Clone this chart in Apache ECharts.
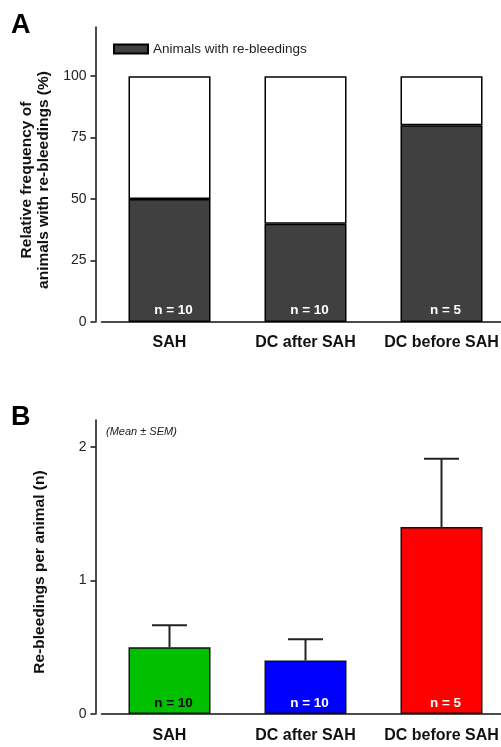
<!DOCTYPE html>
<html>
<head>
<meta charset="utf-8">
<script src="https://cdn.jsdelivr.net/npm/echarts@6/dist/echarts.min.js"></script>
<style>
html,body{margin:0;padding:0;background:#fff;}
#c{width:501px;height:747px;}
</style>
</head>
<body>
<div id="c"></div>
<script>
// ---- Data ----
const categories = ['SAH', 'DC after SAH', 'DC before SAH'];
const groupN = [10, 10, 5];
// Panel A: relative frequency (%)
const withRebleed = [50, 40, 80];
const withoutRebleed = [50, 60, 20];
const yTicksA = [0, 25, 50, 75, 100];
// Panel B: re-bleedings per animal (mean ± SEM)
const meanB = [0.5, 0.4, 1.4];
const semB = [0.165, 0.16, 0.51];
const yTicksB = [0, 1, 2];
const barColorsB = ['#00c000', '#0000ff', '#ff0000'];
const nLabelColorsB = ['#000000', '#ffffff', '#ffffff'];

const FONT = '"Liberation Sans", Arial, Helvetica, sans-serif';
const AXIS_COLOR = '#111';

const chart = echarts.init(document.getElementById('c'), null, {renderer: 'canvas'});

function xAxisCfg(gridIndex, offset) {
  return {
    type: 'category', gridIndex: gridIndex, data: categories, offset: offset,
    axisLine: {show: true, lineStyle: {color: AXIS_COLOR, width: 1.5}},
    axisTick: {show: false},
    axisLabel: {interval: 0, hideOverlap: false, color: '#111', fontFamily: FONT, fontSize: 16, fontWeight: 'bold', margin: 9},
    splitLine: {show: false}
  };
}
function yAxisCfg(gridIndex, max, ticks) {
  return {
    type: 'value', gridIndex: gridIndex, min: 0, max: max, offset: 6,
    axisLine: {show: true, lineStyle: {color: AXIS_COLOR, width: 1.5}},
    axisTick: {show: true, length: 5, customValues: ticks, lineStyle: {color: AXIS_COLOR, width: 1.5}},
    axisLabel: {customValues: ticks, color: '#222', fontFamily: FONT, fontSize: 14, margin: 9},
    splitLine: {show: false}
  };
}

const nLabel = (color, dist) => ({
  show: true, position: 'insideBottom', distance: dist, offset: [4, 0],
  color: color, fontFamily: FONT, fontSize: 13.5, fontWeight: 'bold',
  formatter: p => 'n = ' + groupN[p.dataIndex]
});

const option = {
  animation: false,
  backgroundColor: '#fff',
  grid: [
    {left: 101.5, width: 408, top: 27, height: 295, outerBoundsMode: 'none', containLabel: false},
    {left: 101.5, width: 408, top: 420, height: 294, outerBoundsMode: 'none', containLabel: false}
  ],
  legend: {
    data: ['Animals with re-bleedings'],
    left: 108, top: 37, itemWidth: 34, itemHeight: 9, itemGap: 5,
    icon: 'rect',
    textStyle: {color: '#222', fontFamily: FONT, fontSize: 13.5}
  },
  xAxis: [xAxisCfg(0, 4), xAxisCfg(1, 5)],
  yAxis: [yAxisCfg(0, 120, yTicksA), yAxisCfg(1, 2.2, yTicksB)],
  series: [
    {
      name: 'Animals with re-bleedings', type: 'bar', stack: 'a',
      xAxisIndex: 0, yAxisIndex: 0, barWidth: 82,
      itemStyle: {color: '#404040', borderColor: '#000', borderWidth: 1.5},
      label: nLabel('#ffffff', 5),
      data: withRebleed
    },
    {
      name: 'Animals without re-bleedings', type: 'bar', stack: 'a',
      xAxisIndex: 0, yAxisIndex: 0, barWidth: 82,
      itemStyle: {color: '#ffffff', borderColor: '#000', borderWidth: 1.5},
      data: withoutRebleed
    },
    {
      name: 'Re-bleedings per animal', type: 'bar',
      xAxisIndex: 1, yAxisIndex: 1, barWidth: 82,
      itemStyle: {borderColor: '#111', borderWidth: 1.5},
      label: nLabel('#fff', 4),
      data: meanB.map((v, i) => ({
        value: v,
        itemStyle: {color: barColorsB[i]},
        label: {color: nLabelColorsB[i]}
      }))
    },
    {
      name: 'SEM', type: 'custom', xAxisIndex: 1, yAxisIndex: 1, z: 5,
      data: meanB.map((m, i) => [i, m, semB[i]]),
      renderItem: function (params, api) {
        const idx = api.value(0), m = api.value(1), s = api.value(2);
        const base = api.coord([idx, m]);
        const top = api.coord([idx, m + s]);
        const half = 17.5;
        const st = {stroke: '#222', lineWidth: 2};
        return {
          type: 'group',
          children: [
            {type: 'line', shape: {x1: base[0], y1: base[1], x2: top[0], y2: top[1]}, style: st},
            {type: 'line', shape: {x1: top[0] - half, y1: top[1], x2: top[0] + half, y2: top[1]}, style: st}
          ]
        };
      }
    }
  ],
  graphic: [
    {type: 'text', left: 11, top: 12, style: {text: 'A', font: 'bold 27px ' + FONT, fill: '#000'}},
    {type: 'text', left: 11, top: 404, style: {text: 'B', font: 'bold 27px ' + FONT, fill: '#000'}},
    {type: 'text', x: 35.5, y: 180, rotation: Math.PI / 2,
      style: {text: 'Relative frequency of\nanimals with re-bleedings (%)', font: 'bold 15.5px ' + FONT,
        fill: '#111', align: 'center', verticalAlign: 'middle', lineHeight: 17}},
    {type: 'text', x: 40, y: 572, rotation: Math.PI / 2,
      style: {text: 'Re-bleedings per animal (n)', font: 'bold 15.5px ' + FONT,
        fill: '#111', align: 'center', verticalAlign: 'middle'}},
    {type: 'text', left: 106, top: 426,
      style: {text: '(Mean ± SEM)', font: 'italic 11px ' + FONT, fill: '#222'}}
  ]
};
chart.setOption(option);
</script>
</body>
</html>
